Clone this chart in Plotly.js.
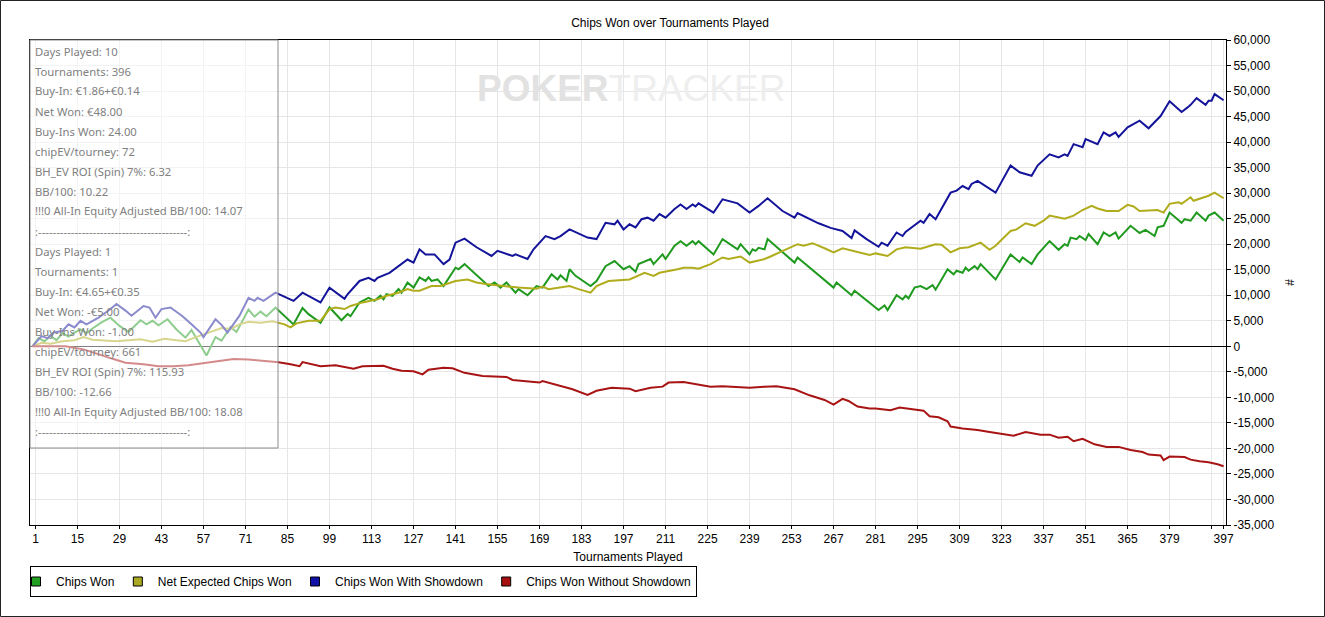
<!DOCTYPE html>
<html><head><meta charset="utf-8">
<script src="https://cdn.plot.ly/plotly-3.0.1.min.js"></script>
<style>html,body{margin:0;padding:0;background:#fff}#chart{width:1325px;height:617px}</style>
</head><body><div id="chart"></div>
<script>
// ---- data ----
const chipsWonT = [0,2,4,6,8,10,12,14,16,18,20,23,26,29,32,36,38,40,42,45,48,51,53,58,61,63,66,68,72,74,76,78,81,87,90,92,96,99,103,105,106,109,112,114,116,117,118,120,122,123,125,127,129,131,132,133,135,137,141,142,144,152,154,156,158,161,162,165,168,170,173,175,176,178,179,181,186,188,191,194,197,199,201,202,206,207,210,211,214,216,218,220,221,222,227,230,235,236,239,240,241,242,244,245,254,255,267,268,273,274,282,284,285,288,290,291,292,294,296,298,300,301,305,307,308,310,311,312,314,315,316,321,326,329,330,333,335,339,342,344,345,346,348,349,351,352,355,357,359,361,362,365,366,369,371,374,375,377,379,383,384,386,388,391,392,394,397];
const chipsWonV = [0,1600,1000,2000,1200,2600,1900,2700,3300,2600,3500,4700,5600,4000,2800,5100,4300,5000,4100,5300,3300,1700,3200,-1800,1800,1100,3800,2800,7200,5800,6800,5900,7600,4300,7500,6300,4600,7600,5100,6300,5900,8600,9500,8900,9900,9200,10200,9900,11200,10500,12500,11500,13500,12800,13500,12800,13100,11800,15400,15100,16100,11800,12500,11500,12500,10500,11200,10000,11800,11500,14100,13100,13900,12800,15100,13800,11800,12800,15700,16700,15100,15700,14600,16100,17100,16100,18000,17100,19700,20600,19700,20600,20000,20600,18000,21000,19000,20000,18000,19000,18700,19300,19000,21000,16400,17400,11500,12500,10000,10900,7100,8000,7100,10000,9200,9900,9400,11500,11800,11200,12000,11100,15100,14100,14800,14400,15400,14800,15700,15100,16100,13100,18000,16500,17400,16100,18000,20600,18900,20000,19700,21300,21000,21600,20800,22000,20000,22300,21600,22300,21100,23100,23600,22200,22800,21600,23300,23600,26200,24200,24900,24600,26200,24600,25600,26200,24600];

const netExpectedT = [0,3,6,10,14,17,20,24,28,32,36,40,44,48,51,54,57,60,63,66,69,72,76,80,84,86,88,92,96,99,101,104,106,110,115,118,122,125,127,129,133,136,141,145,148,151,157,162,168,170,172,175,179,182,186,188,192,199,204,207,209,215,217,220,222,226,230,232,236,239,244,246,249,254,255,257,260,264,267,270,274,279,281,285,288,291,296,299,301,303,306,309,312,316,319,321,326,328,331,334,337,339,344,347,350,353,355,358,362,365,367,369,375,377,379,382,383,386,387,392,394,397];
const netExpectedV = [0,700,500,1000,1200,1800,1300,1100,1000,1200,1400,900,1500,1200,1000,1700,2300,3000,3600,3400,4300,4800,4600,4900,4300,3700,4500,5000,5000,7300,7600,7300,7900,8600,9200,9900,10500,11200,10900,10900,11800,11800,12800,13100,12500,12200,11800,11500,11300,11700,11200,11500,11800,11200,10500,11800,12800,13100,14400,13800,14400,15100,15400,15400,15200,16100,17400,17100,17600,16400,17100,17600,18400,19600,20000,19700,20200,19200,18400,19200,18600,17900,18200,17700,19000,19400,19100,19700,20000,19900,18400,19200,19400,20300,18900,19700,22600,22900,24100,23600,24600,25600,25000,25600,26700,27500,27000,26500,26500,27700,27400,26500,26700,26200,27900,28200,27900,29200,28500,29500,30100,29000];

const withShowdownT = [0,3,5,7,10,12,14,16,18,20,22,26,28,31,33,37,39,41,43,46,50,53,56,57,61,63,65,69,72,74,75,77,81,87,90,96,99,104,105,109,112,114,115,119,122,125,127,129,131,134,137,139,141,144,148,150,153,155,160,161,165,167,171,174,176,179,184,185,188,191,194,195,197,199,201,203,205,207,209,211,214,216,218,220,221,222,227,230,235,239,242,245,250,254,255,259,262,266,268,270,273,274,278,282,283,285,288,290,291,296,297,299,301,304,306,308,310,312,313,315,321,326,329,333,335,339,342,344,345,347,350,351,355,357,359,361,362,365,366,369,372,375,376,379,383,385,386,388,391,392,393,394,397];
const withShowdownV = [0,2000,1600,2700,3000,4300,3700,5000,4300,5000,5600,7300,8300,7000,6000,7900,7600,5600,7300,7600,5900,4300,2700,1800,5300,4200,2700,6000,9500,8900,9500,8900,10500,8900,10500,8600,11500,9300,10200,12800,13400,12800,13400,14400,15700,17000,16400,19000,18000,18000,16100,17000,20300,21100,19400,18700,17700,18700,17700,18000,17100,19000,21600,21000,21600,22900,21600,21300,21000,24200,23900,24600,22900,23900,23300,24900,25200,24600,25900,25200,26900,27800,26900,27800,27400,28000,26200,28800,28000,26200,27500,29000,26500,25200,26100,25000,24100,23200,22900,22600,21200,22700,21000,19500,20300,19700,22300,21600,22400,24600,24200,25900,24900,28200,30100,30500,31400,30800,31800,32400,30100,35400,34100,33400,35400,37600,37000,37600,37300,39600,39000,40600,39600,41900,41200,41900,41000,42900,43200,44200,42700,44500,45100,48000,45900,46800,47300,48600,47300,48100,48100,49400,48200];

const withoutShowdownT = [0,11,17,22,27,31,37,42,47,52,58,63,67,72,78,82,86,89,90,96,101,107,110,117,120,123,127,130,132,137,140,144,150,158,160,169,170,175,180,185,188,193,199,201,206,210,212,217,221,226,230,239,244,248,254,259,264,267,270,272,275,279,281,286,289,297,299,302,305,306,310,315,319,324,327,331,336,339,342,345,347,350,354,358,362,366,370,372,376,377,379,384,386,389,392,395,397];
const withoutShowdownV = [0,0,-600,-1600,-2500,-3200,-3500,-3900,-3900,-3700,-3200,-2700,-2500,-2600,-2900,-3100,-3500,-3900,-3100,-3900,-3700,-4400,-3900,-3800,-4400,-4800,-4900,-5500,-4600,-4200,-4300,-5200,-5800,-6000,-6600,-7100,-6800,-7600,-8400,-9500,-8700,-8100,-8300,-8800,-8100,-7900,-7100,-7000,-7400,-7900,-7800,-8100,-7900,-7800,-8400,-9600,-10500,-11400,-10300,-10700,-11800,-12200,-12200,-12500,-12000,-12600,-13700,-13900,-14700,-15700,-16100,-16400,-16800,-17300,-17500,-16800,-17300,-17300,-17900,-17700,-18600,-18100,-19200,-19700,-19700,-20300,-20700,-21200,-21400,-22300,-21600,-21700,-22200,-22500,-22700,-23100,-23500];

const seriesNames = ['Chips Won','Net Expected Chips Won','Chips Won With Showdown','Chips Won Without Showdown'];

const xTickVals = [1,15,29,43,57,71,85,99,113,127,141,155,169,183,197,211,225,239,253,267,281,295,309,323,337,351,365,379,393,397];
const xTickText = ['1','15','29','43','57','71','85','99','113','127','141','155','169','183','197','211','225','239','253','267','281','295','309','323','337','351','365','379','','397'];
const yTickVals = [-35000,-30000,-25000,-20000,-15000,-10000,-5000,0,5000,10000,15000,20000,25000,30000,35000,40000,45000,50000,55000,60000];
const yTickText = ['-35,000','-30,000','-25,000','-20,000','-15,000','-10,000','-5,000','0','5,000','10,000','15,000','20,000','25,000','30,000','35,000','40,000','45,000','50,000','55,000','60,000'];

const statsLines = [
 'Days Played: 10','Tournaments: 396','Buy-In: €1.86+€0.14','Net Won: €48.00','Buy-Ins Won: 24.00',
 'chipEV/tourney: 72','BH_EV ROI (Spin) 7%: 6.32','BB/100: 10.22','!!!0 All-In Equity Adjusted BB/100: 14.07',
 ':-----------------------------------------:',
 'Days Played: 1','Tournaments: 1','Buy-In: €4.65+€0.35','Net Won: -€5.00','Buy-Ins Won: -1.00',
 'chipEV/tourney: 661','BH_EV ROI (Spin) 7%: 115.93','BB/100: -12.66','!!!0 All-In Equity Adjusted BB/100: 18.08',
 ':-----------------------------------------:'
];

// ---- styling / layout ----
const lineColors = ['#1f9a1f','#b0ac1c','#14149a','#a81414'];
const legendColors = ['#22a022','#aaaa22','#1010a8','#a81010'];
const seriesX = [chipsWonT, netExpectedT, withShowdownT, withoutShowdownT];
const seriesY = [chipsWonV, netExpectedV, withShowdownV, withoutShowdownV];

const FONT = 'Liberation Sans, Arial, sans-serif';
const L = 30, R = 1226, TOP = 40, B = 525;
const pxX = p => (p - L) / (R - L);
const pxY = p => (B - p) / (B - TOP);
const PAD = '\u00a0\u00a0\u00a0\u00a0';

const traces = [];
for (let i = 0; i < 4; i++) {
  traces.push({type:'scatter', mode:'lines', x:seriesX[i], y:seriesY[i], name:seriesNames[i],
    showlegend:false, line:{color:lineColors[i], width:2}, hoverinfo:'skip'});
}
for (let i = 0; i < 4; i++) {
  traces.push({type:'scatter', mode:'markers', x:[null], y:[null],
    name: seriesNames[i] + (i < 3 ? PAD : ''),
    showlegend:true, marker:{symbol:'square', size:9, color:legendColors[i], line:{color:'#000', width:1}}});
}

const annotations = statsLines.map((s, i) => ({
  xref:'paper', yref:'paper', x:pxX(33), y:pxY(51 + 20*i), xanchor:'left', yanchor:'middle',
  text:s, showarrow:false, font:{family:'Noto Sans, DejaVu Sans, sans-serif', size:11.3, color:'#808080'}
}));
annotations.push({
  xref:'paper', yref:'paper', x:pxX(631), y:pxY(89), xanchor:'center', yanchor:'middle', showarrow:false,
  text:'<b><span style="color:#e2e2e2">POKER</span></b><span style="color:#eeeeee">TRACKER</span>',
  font:{family:FONT, size:37, color:'#e8e8e8'}
});

const layout = {
  width:1325, height:617,
  margin:{l:L, r:1325-R, t:TOP, b:617-B},
  paper_bgcolor:'#fff', plot_bgcolor:'#fff',
  font:{family:FONT, size:12, color:'#000'},
  title:{text:'Chips Won over Tournaments Played', xref:'container', x:670/1325, xanchor:'center',
         yref:'container', y:1-22.5/617, yanchor:'middle', font:{family:FONT, size:12, color:'#000'}},
  xaxis:{range:[-0.83, 397.8], tickmode:'array', tickvals:xTickVals, ticktext:xTickText,
         showgrid:true, gridcolor:'#e6e6e6', gridwidth:1, zeroline:false,
         showline:true, linecolor:'#000', linewidth:1, mirror:true,
         ticks:'outside', ticklen:3, tickcolor:'#000', tickfont:{family:FONT, size:12, color:'#000'},
         title:{text:'Tournaments Played', font:{family:FONT, size:12, color:'#000'}, standoff:7}},
  yaxis:{side:'right', range:[-35000, 60000], tickmode:'array', tickvals:yTickVals, ticktext:yTickText,
         showgrid:true, gridcolor:'#e6e6e6', gridwidth:1,
         zeroline:true, zerolinecolor:'#000', zerolinewidth:1,
         showline:true, linecolor:'#000', linewidth:1, mirror:true,
         ticks:'outside', ticklen:4, tickcolor:'#000', tickfont:{family:FONT, size:12, color:'#000'},
         title:{text:'#', font:{family:FONT, size:12, color:'#000'}, standoff:12}},
  showlegend:true,
  legend:{orientation:'h', x:0, xanchor:'left', y:pxY(566), yanchor:'top', indentation:-15,
          bordercolor:'#000', borderwidth:1, bgcolor:'#fff', itemwidth:30,
          font:{family:FONT, size:12, color:'#000'}},
  shapes:[
    {type:'rect', xref:'paper', yref:'paper', x0:pxX(30), x1:pxX(278), y0:pxY(448), y1:pxY(40),
     layer:'above', line:{color:'#8c8c8c', width:1}, fillcolor:'rgba(255,255,255,0.5)'},
    {type:'rect', xref:'paper', yref:'paper', x0:pxX(0.5), x1:pxX(1324.5), y0:pxY(616.5), y1:pxY(0.5),
     layer:'above', line:{color:'#222', width:1}, fillcolor:'rgba(0,0,0,0)'}
  ],
  annotations:annotations,
  hovermode:false
};

Plotly.newPlot('chart', traces, layout, {staticPlot:true, displayModeBar:false});
</script>
</body></html>
